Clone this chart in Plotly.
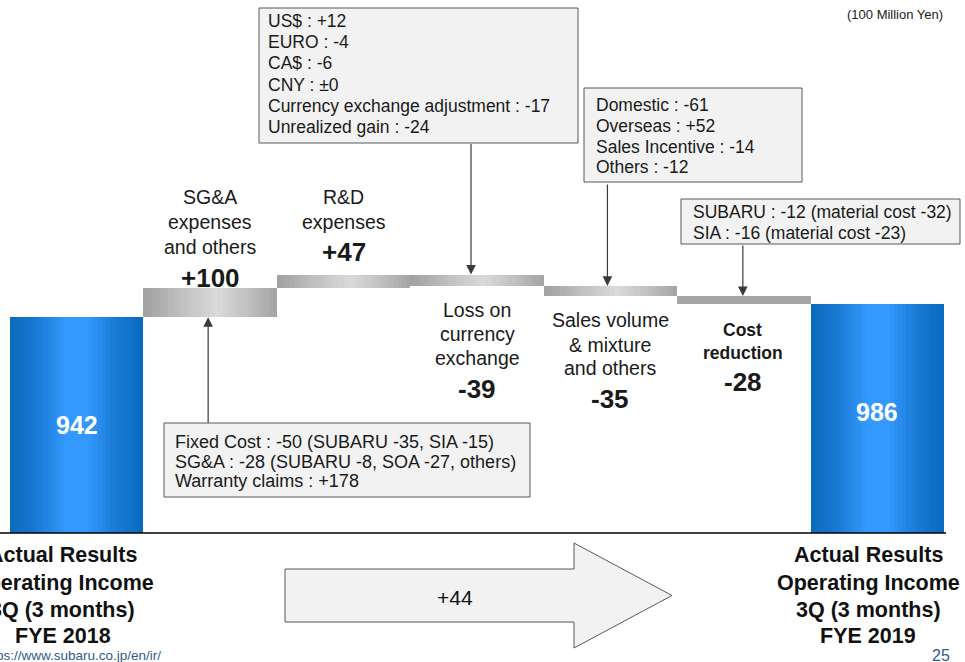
import plotly.graph_objects as go

# ---------------- data ----------------
categories = ["Actual Results 3Q FYE 2018", "SG&A expenses and others", "R&D expenses",
              "Loss on currency exchange", "Sales volume & mixture and others",
              "Cost reduction", "Actual Results 3Q FYE 2019"]
measures = ["absolute", "relative", "relative", "relative", "relative", "relative", "total"]
values = [942, 100, 47, -39, -35, -28, 986]

label_lines = [None,
               ["SG&A", "expenses", "and others"],
               ["R&D", "expenses"],
               ["Loss on", "currency", "exchange"],
               ["Sales volume", "& mixture", "and others"],
               ["Cost", "reduction"],
               None]
start_label = ["Actual Results", "Operating Income", "3Q (3 months)", "FYE 2018"]
end_label = ["Actual Results", "Operating Income", "3Q (3 months)", "FYE 2019"]

box_fixed = ["Fixed Cost : -50 (SUBARU -35, SIA -15)",
             "SG&A : -28 (SUBARU -8, SOA -27, others)",
             "Warranty claims : +178"]
box_fx = ["US$ : +12", "EURO : -4", "CA$ : -6", "CNY : \u00b10",
          "Currency exchange adjustment : -17", "Unrealized gain : -24"]
box_sales = ["Domestic : -61", "Overseas : +52", "Sales Incentive : -14", "Others : -12"]
box_cost = ["SUBARU : -12 (material cost -32)", "SIA : -16 (material cost -23)"]

unit_text = "(100 Million Yen)"
url_text = "https://www.subaru.co.jp/en/ir/"
page_no = "25"

# ---------------- derived waterfall geometry ----------------
bases, heights = [], []
running = 0
for m, v in zip(measures, values):
    if m in ("absolute", "total"):
        bases.append(0)
        heights.append(v)
        running = v if m == "absolute" else running
    else:
        bases.append(min(running, running + v))
        heights.append(abs(v))
        running += v
tops = [b + h for b, h in zip(bases, heights)]

# ---------------- styling ----------------
W, H = 965, 662
FONT = "Arial, 'Liberation Sans', sans-serif"
TXT = "#1a1a1a"
kinds = ["blue", "grey", "grey", "grey", "grey", "flat", "blue"]

def lerp_stops(stops, u):
    for (u0, c0), (u1, c1) in zip(stops[:-1], stops[1:]):
        if u0 <= u <= u1:
            t = (u - u0) / (u1 - u0) if u1 > u0 else 0
            return "rgb(%d,%d,%d)" % tuple(round(a + (b - a) * t) for a, b in zip(c0, c1))
    return "rgb(%d,%d,%d)" % stops[-1][1]

BLUE = [(0, (10, 106, 186)), (0.2, (26, 122, 212)), (0.42, (51, 153, 255)),
        (0.58, (51, 153, 255)), (0.8, (26, 122, 212)), (1, (8, 106, 188))]
GREY = [(0, (160, 160, 160)), (0.25, (188, 188, 188)), (0.55, (218, 218, 218)),
        (0.8, (190, 190, 190)), (1, (164, 164, 164))]
FLAT = [(0, (166, 166, 166)), (1, (166, 166, 166))]
SCALES = {"blue": BLUE, "grey": GREY, "flat": FLAT}

fig = go.Figure()
N = 32
for k in range(N):
    u = (k + 0.5) / N
    cols = [lerp_stops(SCALES[kd], u) for kd in kinds]
    w = 1.0 / N * (1.35 if k < N - 1 else 1.0)
    fig.add_trace(go.Bar(x=categories, y=heights, base=bases,
                         offset=-0.5 + k / N, width=[w] * len(categories),
                         marker=dict(color=cols, line=dict(width=0)),
                         hoverinfo="skip", showlegend=False))

def px(x):
    return x / W

def py(y):
    return 1 - y / H

def text(x, y, s, size, color=TXT, bold=False, xanchor="center", xref="paper", xshift=0):
    fig.add_annotation(x=px(x) if xref == "paper" else x, y=py(y), xref=xref, yref="paper",
                       text=f"<b>{s}</b>" if bold else s, showarrow=False,
                       xanchor=xanchor, yanchor="middle", xshift=xshift,
                       font=dict(size=size, color=color, family=FONT))

# category labels and values
label_y = {1: ([197, 222, 247], 278), 2: ([197, 222], 252), 3: ([310, 334, 358], 389),
           4: ([320, 345, 368], 399), 5: ([330, 353], 382)}
for i, (ys, vy) in label_y.items():
    bold = kinds[i] == "flat"
    for line, yy in zip(label_lines[i], ys):
        text(categories[i], yy, line, 17.5 if bold else 19.5, bold=bold, xref="x",
             xshift=-1 if i == 5 else 0)
    text(categories[i], vy, f"{values[i]:+d}", 26, bold=True, xref="x",
         xshift=-1 if i == 5 else 0)

# values inside the blue bars
text(categories[0], 425, f"{values[0]}", 25, color="white", bold=True, xref="x")
text(categories[6], 412, f"{values[6]}", 25, color="white", bold=True, xref="x")

# bottom labels
for line, yy in zip(start_label, [555, 583, 610, 636]):
    text(categories[0], yy, line, 21.5, color="#111111", bold=True, xref="x", xshift=-14)
for line, yy in zip(end_label, [555, 583, 610, 636]):
    text(categories[6], yy, line, 21.5, color="#111111", bold=True, xref="x", xshift=-9)

# unit, url, page number
text(945, 15, unit_text, 13, color="#222222", xanchor="right")
text(163, 655, url_text, 13.5, color="#2E5C8A", xanchor="right")
text(941, 655, page_no, 16, color="#2E5C8A")

# boxes
shapes = []
def box(x0, y0, x1, y1, lines, ys, tx, size=17.5):
    shapes.append(dict(type="rect", xref="paper", yref="paper", x0=px(x0), x1=px(x1),
                       y0=py(y1), y1=py(y0), fillcolor="#f2f2f2",
                       line=dict(color="#595959", width=1), layer="above"))
    for line, yy in zip(lines, ys):
        text(tx, yy, line, size, color=TXT, xanchor="left")

box(259, 8, 578, 143, box_fx, [21, 42, 63, 85, 106, 127], 266)
box(584, 88, 802, 182, box_sales, [105, 126, 147, 167], 594)
box(681, 199, 960, 244, box_cost, [212, 233], 691)
box(164, 423, 530, 497, box_fixed, [442, 462, 481], 173, size=18)

# baseline
shapes.append(dict(type="line", xref="paper", yref="paper", x0=0, x1=px(946),
                   y0=py(533), y1=py(533), line=dict(color="black", width=1.5), layer="above"))

# big difference arrow
ax0, ax1, axh = 285, 574, 672
by0, by1, hy0, hy1 = 569, 622, 543, 648
tipy = (by0 + by1) / 2
path = (f"M {px(ax0)} {py(by0)} L {px(ax1)} {py(by0)} L {px(ax1)} {py(hy0)} "
        f"L {px(axh)} {py(tipy)} L {px(ax1)} {py(hy1)} L {px(ax1)} {py(by1)} "
        f"L {px(ax0)} {py(by1)} Z")
shapes.append(dict(type="path", xref="paper", yref="paper", path=path,
                   fillcolor="#f2f2f2", line=dict(color="#595959", width=1)))
text(455, 597, f"{values[6] - values[0]:+d}", 21, color="#111111")

# callout arrows (tip on the bars)
def callout(i, yval, ay, xshift):
    fig.add_annotation(x=categories[i], y=yval, xref="x", yref="y", text="",
                       showarrow=True, ax=0, ay=ay, arrowhead=2, arrowsize=1.6,
                       arrowwidth=1.2, arrowcolor="#3a3a3a", xshift=xshift, standoff=0)

callout(3, tops[3], -132, -6)
callout(4, tops[4], -103, -3)
callout(5, tops[5], -52, -1)
callout(1, bases[1], 107, -2)

fig.update_layout(
    width=W, height=H, margin=dict(l=0, r=0, t=0, b=0),
    paper_bgcolor="white", plot_bgcolor="white",
    barmode="overlay", bargap=0, showlegend=False,
    xaxis=dict(domain=[10 / W, 944 / W], range=[-0.5, 6.5], visible=False, fixedrange=True),
    yaxis=dict(domain=[(H - 533) / H, 1], range=[198, 2036], visible=False, fixedrange=True),
    shapes=shapes,
)

fig.write_html("out.html")
